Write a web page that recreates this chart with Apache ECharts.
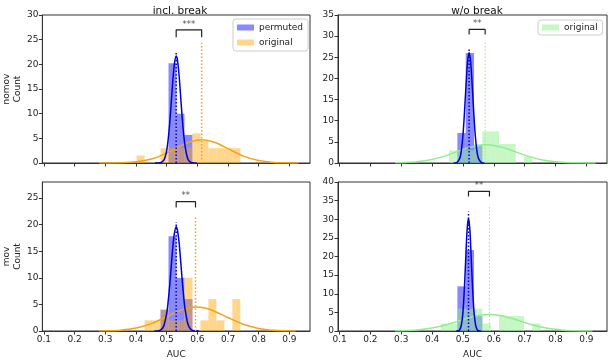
<!DOCTYPE html>
<html>
<head>
<meta charset="utf-8">
<script src="https://cdn.jsdelivr.net/npm/echarts@6/dist/echarts.min.js"></script>
<style>
  html, body { margin: 0; padding: 0; background: #fff; }
  #chart { width: 608px; height: 360px; }
</style>
</head>
<body>
<div id="chart"></div>
<script>
// bin edges (incl. break panels / w/o break panels)
const edgesBreak = [0.402, 0.428, 0.454, 0.48, 0.506, 0.532, 0.558, 0.584, 0.61, 0.636, 0.662, 0.688, 0.714, 0.74];
const edgesNoBreak = [0.428, 0.455, 0.482, 0.509, 0.536, 0.563, 0.59, 0.617, 0.644, 0.671, 0.698, 0.725, 0.752];

// histogram counts
const nomovBreakPerm = [0, 0, 0, 0, 20.2, 10, 5.7, 0, 0, 0, 0, 0, 0];
const nomovBreakOrig = [1.5, 0, 0, 3, 3, 3, 3, 6, 4.5, 3, 3, 3, 3];
const nomovNoBreakPerm = [0, 0, 7.1, 26, 4, 0, 0, 0, 0, 0, 0, 0];
const nomovNoBreakOrig = [0, 3, 3, 3, 4.5, 7.5, 7.5, 4.5, 4.5, 0, 1.5, 0];
const movBreakPerm = [0, 0, 0, 4, 17.8, 10, 6, 0, 0, 0, 0, 0, 0];
const movBreakOrig = [0, 2, 2, 4, 2, 2, 10, 0, 2, 6, 2, 0, 6];
const movNoBreakPerm = [0, 0, 12, 21.75, 4, 0, 0, 0, 0, 0, 0, 0];
const movNoBreakOrig = [2, 2, 6, 6, 6, 2, 0, 4, 4, 4, 0, 2];

// fitted curves [AUC, count]
const nomovBreakPermCurve = [[0.462,0],[0.48,0.07],[0.49,0.5],[0.495,1.2],[0.5,2.5],[0.505,4.8],[0.51,8.1],[0.515,12.3],[0.52,16.6],[0.525,20.0],[0.531,21.7],[0.535,20.9],[0.54,18.1],[0.545,14.0],[0.55,9.7],[0.555,6.0],[0.56,3.4],[0.565,1.7],[0.57,0.7],[0.575,0.3],[0.585,0.05],[0.598,0]];
const nomovBreakOrigCurve = [[0.28,0],[0.3,0.01],[0.35,0.05],[0.4,0.23],[0.45,0.8],[0.5,2.0],[0.525,2.8],[0.55,3.6],[0.575,4.25],[0.614,4.7],[0.65,4.3],[0.675,3.7],[0.7,2.9],[0.75,1.4],[0.8,0.5],[0.85,0.12],[0.9,0.02],[0.93,0]];
const nomovNoBreakPermCurve = [[0.47,0],[0.48,0.1],[0.49,1.15],[0.495,3.0],[0.5,6.5],[0.505,12.0],[0.51,18.4],[0.515,23.9],[0.52,26.1],[0.525,23.9],[0.53,18.4],[0.535,12.0],[0.54,6.5],[0.545,3.0],[0.55,1.15],[0.56,0.1],[0.57,0]];
const nomovNoBreakOrigCurve = [[0.28,0.04],[0.3,0.08],[0.35,0.29],[0.4,0.85],[0.45,1.87],[0.5,3.19],[0.525,3.76],[0.55,4.16],[0.575,4.3],[0.6,4.16],[0.625,3.76],[0.65,3.19],[0.7,1.87],[0.75,0.85],[0.8,0.29],[0.85,0.08],[0.9,0.02],[0.93,0]];
const movBreakPermCurve = [[0.46,0],[0.47,0.02],[0.48,0.16],[0.49,0.87],[0.5,3.3],[0.505,5.6],[0.51,8.6],[0.515,12.2],[0.52,15.7],[0.525,18.3],[0.531,19.6],[0.535,19.0],[0.54,16.9],[0.545,13.6],[0.55,10.0],[0.555,6.7],[0.56,4.1],[0.57,1.16],[0.58,0.23],[0.59,0.03],[0.605,0]];
const movBreakOrigCurve = [[0.28,0.02],[0.3,0.04],[0.35,0.16],[0.4,0.55],[0.45,1.39],[0.5,2.7],[0.525,3.4],[0.55,4.0],[0.575,4.38],[0.597,4.5],[0.625,4.31],[0.65,3.86],[0.7,2.53],[0.75,1.26],[0.8,0.48],[0.85,0.14],[0.9,0.03],[0.92,0]];
const movNoBreakPermCurve = [[0.478,0],[0.485,0.07],[0.49,0.39],[0.495,1.62],[0.5,5.0],[0.505,11.9],[0.51,21.2],[0.514,27.7],[0.518,30.3],[0.522,27.7],[0.526,21.2],[0.531,11.9],[0.536,5.0],[0.541,1.62],[0.546,0.39],[0.551,0.07],[0.558,0]];
const movNoBreakOrigCurve = [[0.28,0.04],[0.3,0.08],[0.35,0.28],[0.4,0.8],[0.45,1.77],[0.5,3.07],[0.525,3.68],[0.55,4.14],[0.585,4.4],[0.62,4.14],[0.645,3.68],[0.67,3.07],[0.72,1.77],[0.77,0.8],[0.82,0.28],[0.87,0.08],[0.92,0.015]];

// means [perm, orig], dotted line tops, bracket [y, leg], stars
const meansX = [[0.531, 0.614], [0.520, 0.572], [0.531, 0.594], [0.518, 0.586]];
const meanTops = [[22.5, 24.3], [27.1, 28.7], [20.5, 21.7], [32.1, 33.4]];
const brackets = [[27, 25.5], [31.6, 30.4], [24.3, 23.2], [37.5, 36.1]];
const stars = ['***', '**', '**', '**'];

// axes
const xTicks = [0.1, 0.2, 0.3, 0.4, 0.5, 0.6, 0.7, 0.8, 0.9];
const yMax = [30, 35, 28, 40];
const yTicks = [
  [0, 5, 10, 15, 20, 25, 30],
  [0, 5, 10, 15, 20, 25, 30, 35],
  [0, 5, 10, 15, 20, 25],
  [0, 5, 10, 15, 20, 25, 30, 35, 40]
];

const FONT = 'DejaVu Sans';
const BLUE_FILL = 'rgba(0,0,255,0.46)';
const BLUE_LINE = '#0000cd';
const ORANGE_FILL = 'rgba(255,165,0,0.45)';
const ORANGE_LINE = '#f5a316';
const GREEN_FILL = 'rgba(144,238,144,0.5)';
const GREEN_LINE = '#90ee90';

var chart = echarts.init(document.getElementById('chart'));

function histSeries(name, idx, edges, counts, color) {
  var data = [];
  counts.forEach(function (c, i) {
    if (c > 0) data.push([edges[i], edges[i + 1], c]);
  });
  return {
    name: name, type: 'custom', xAxisIndex: idx, yAxisIndex: idx,
    itemStyle: { color: color },
    encode: { x: [0, 1], y: 2 },
    data: data,
    renderItem: function (params, api) {
      var p0 = api.coord([api.value(0), api.value(2)]);
      var p1 = api.coord([api.value(1), 0]);
      return { type: 'rect', shape: { x: p0[0], y: p0[1], width: p1[0] - p0[0], height: p1[1] - p0[1] },
        style: { fill: color } };
    }
  };
}

function curve(idx, pts, color) {
  return { type: 'line', xAxisIndex: idx, yAxisIndex: idx, data: pts, smooth: 0.3,
    showSymbol: false, silent: true, lineStyle: { color: color, width: 1.5 } };
}

function vline(idx, x, top, color, w) {
  return { type: 'line', xAxisIndex: idx, yAxisIndex: idx, data: [[x, 0], [x, top]],
    showSymbol: false, silent: true, lineStyle: { color: color, width: w, type: [1.5, 2] } };
}

var grids = [
  { left: 41, top: 15, width: 269, height: 148 },
  { left: 338, top: 15, width: 269, height: 148 },
  { left: 41, top: 182, width: 269, height: 149 },
  { left: 338, top: 182, width: 269, height: 149 }
].map(function (g) {
  return Object.assign({ show: true, borderColor: '#333', borderWidth: 1, backgroundColor: 'transparent' }, g);
});

var xAxes = [0, 1, 2, 3].map(function (i) {
  var bottom = i >= 2;
  return {
    type: 'value', gridIndex: i, min: 0.095, max: 0.967,
    name: bottom ? 'AUC' : '', nameLocation: 'middle', nameGap: 19,
    nameTextStyle: { fontFamily: FONT, fontSize: 9, color: '#222' },
    axisLine: { lineStyle: { color: '#333' } },
    axisTick: { show: true, length: 3.5, lineStyle: { color: '#333' }, customValues: xTicks },
    axisLabel: { show: bottom, fontFamily: FONT, fontSize: 9, color: '#222', margin: 4,
      customValues: xTicks, formatter: function (v) { return v.toFixed(1); } },
    splitLine: { show: false }
  };
});

var yNames = ['nomov\nCount', '', 'mov\nCount', ''];
var yAxes = [0, 1, 2, 3].map(function (i) {
  return {
    type: 'value', gridIndex: i, min: 0, max: yMax[i],
    name: yNames[i], nameLocation: 'middle', nameGap: 15, nameRotate: 90,
    nameTextStyle: { fontFamily: FONT, fontSize: 9, color: '#222', lineHeight: 11 },
    axisLine: { show: true, lineStyle: { color: '#333' } },
    axisTick: { show: true, length: 3.5, lineStyle: { color: '#333' }, customValues: yTicks[i] },
    axisLabel: { fontFamily: FONT, fontSize: 9, color: '#222', margin: 4, customValues: yTicks[i] },
    splitLine: { show: false }
  };
});

var permSets = [nomovBreakPerm, nomovNoBreakPerm, movBreakPerm, movNoBreakPerm];
var origSets = [nomovBreakOrig, nomovNoBreakOrig, movBreakOrig, movNoBreakOrig];
var permCurves = [nomovBreakPermCurve, nomovNoBreakPermCurve, movBreakPermCurve, movNoBreakPermCurve];
var origCurves = [nomovBreakOrigCurve, nomovNoBreakOrigCurve, movBreakOrigCurve, movNoBreakOrigCurve];

var series = [];
for (var i = 0; i < 4; i++) {
  var withBreak = (i % 2 === 0);
  var edges = withBreak ? edgesBreak : edgesNoBreak;
  var origFill = withBreak ? ORANGE_FILL : GREEN_FILL;
  var origLine = withBreak ? ORANGE_LINE : GREEN_LINE;
  series.push(histSeries('permuted', i, edges, permSets[i], BLUE_FILL));
  series.push(histSeries(withBreak ? 'original' : 'original_wo', i, edges, origSets[i], origFill));
  series.push(curve(i, origCurves[i], origLine));
  series.push(curve(i, permCurves[i], BLUE_LINE));
  series.push(vline(i, meansX[i][0], meanTops[i][0], BLUE_LINE, 1.5));
  series.push(vline(i, meansX[i][1], meanTops[i][1], origLine, withBreak ? 1.5 : 1));
  // significance bracket
  var b = brackets[i];
  series.push({ type: 'line', xAxisIndex: i, yAxisIndex: i, showSymbol: false, silent: true,
    data: [[meansX[i][0], b[1]], [meansX[i][0], b[0]], [meansX[i][1], b[0]], [meansX[i][1], b[1]]],
    lineStyle: { color: '#222', width: 1.2 } });
  series.push({ type: 'scatter', xAxisIndex: i, yAxisIndex: i, symbolSize: 0, silent: true,
    data: [[(meansX[i][0] + meansX[i][1]) / 2, b[0]]],
    label: { show: true, position: 'top', distance: 1, formatter: stars[i],
      fontFamily: FONT, fontSize: 8.5, color: '#222' } });
}

chart.setOption({
  animation: false,
  textStyle: { fontFamily: FONT },
  title: [
    { text: 'incl. break', left: 175, top: 1, textAlign: 'center',
      textStyle: { fontFamily: FONT, fontSize: 10.5, fontWeight: 'normal', color: '#111' } },
    { text: 'w/o break', left: 472, top: 1, textAlign: 'center',
      textStyle: { fontFamily: FONT, fontSize: 10.5, fontWeight: 'normal', color: '#111' } }
  ],
  legend: [
    { data: ['permuted', 'original'], left: 233, top: 19, orient: 'vertical',
      icon: 'rect', itemWidth: 17, itemHeight: 6, itemGap: 6, padding: [4, 5, 4, 4],
      backgroundColor: '#fff', borderColor: '#ccc', borderWidth: 1, borderRadius: 3,
      textStyle: { fontFamily: FONT, fontSize: 9, color: '#222' } },
    { data: ['original_wo'], left: 538, top: 20, orient: 'vertical',
      icon: 'rect', itemWidth: 17, itemHeight: 6, padding: [3, 5, 3, 4],
      backgroundColor: '#fff', borderColor: '#ccc', borderWidth: 1, borderRadius: 3,
      formatter: function () { return 'original'; },
      textStyle: { fontFamily: FONT, fontSize: 9, color: '#222' } }
  ],
  grid: grids,
  xAxis: xAxes,
  yAxis: yAxes,
  series: series
});
</script>
</body>
</html>
